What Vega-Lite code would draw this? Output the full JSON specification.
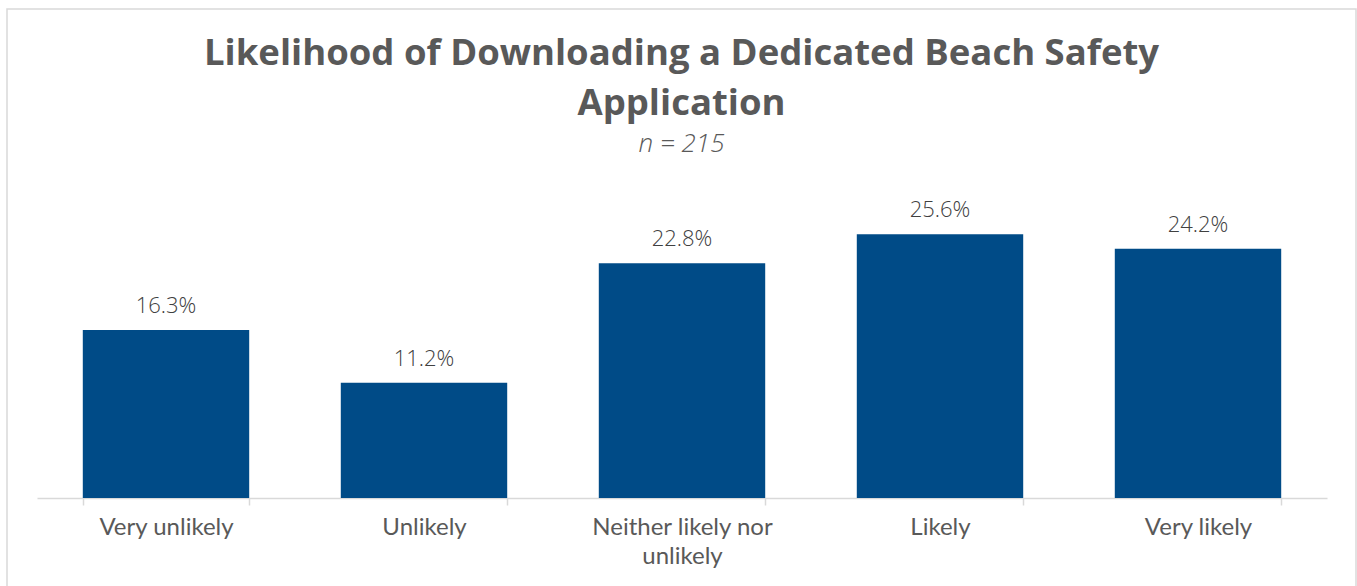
{
  "$schema": "https://vega.github.io/schema/vega-lite/v6.json",
  "autosize": {"type": "none"},
  "width": 1349,
  "height": 591,
  "padding": {"left": 7, "top": 9, "right": 1, "bottom": 0},
  "background": "white",
  "config": {
    "view": {"stroke": "#d9d9d9", "strokeWidth": 1.5},
    "font": "Open Sans"
  },
  "title": {
    "text": ["Likelihood of Downloading a Dedicated Beach Safety", "Application"],
    "subtitle": "n = 215",
    "anchor": "middle",
    "frame": "group",
    "offset": -148,
    "font": "Open Sans",
    "fontSize": 36.5,
    "fontWeight": "bold",
    "color": "#595959",
    "lineHeight": 50,
    "subtitleFont": "Open Sans",
    "subtitleFontSize": 26,
    "subtitleFontStyle": "italic",
    "subtitleFontWeight": 300,
    "subtitleColor": "#595959",
    "subtitlePadding": 9
  },
  "data": {
    "values": [
      {"response": "Very unlikely", "pct": 16.3},
      {"response": "Unlikely", "pct": 11.2},
      {"response": "Neither likely nor unlikely", "pct": 22.8},
      {"response": "Likely", "pct": 25.6},
      {"response": "Very likely", "pct": 24.2}
    ]
  },
  "transform": [
    {"calculate": "format(datum.pct, '.1f') + '%'", "as": "label"}
  ],
  "encoding": {
    "x": {
      "field": "response",
      "type": "nominal",
      "sort": null,
      "scale": {"range": [30, 1320], "paddingInner": 0.355, "paddingOuter": 0.1775},
      "axis": {
        "title": null,
        "labelAngle": 0,
        "offset": -102,
        "tickBand": "extent",
        "domainColor": "#d9d9d9",
        "domainWidth": 1.5,
        "tickColor": "#d9d9d9",
        "tickWidth": 1.5,
        "tickSize": 7,
        "labelFont": "Lato",
        "labelFontSize": 24,
        "labelColor": "#595959",
        "labelPadding": 10,
        "labelLineHeight": 29.5,
        "labelBaseline": "top",
        "labelLimit": 400,
        "labelExpr": "datum.value == 'Neither likely nor unlikely' ? ['Neither likely nor', 'unlikely'] : datum.value"
      }
    },
    "y": {
      "field": "pct",
      "type": "quantitative",
      "scale": {"domain": [0, 30], "range": [489, 180]},
      "axis": null
    }
  },
  "layer": [
    {"mark": {"type": "bar", "color": "#004B87"}},
    {
      "mark": {"type": "text", "dy": -17, "baseline": "alphabetic", "fontSize": 22, "fontWeight": 300, "font": "Open Sans", "color": "#404040"},
      "encoding": {"text": {"field": "label", "type": "nominal"}}
    }
  ]
}
